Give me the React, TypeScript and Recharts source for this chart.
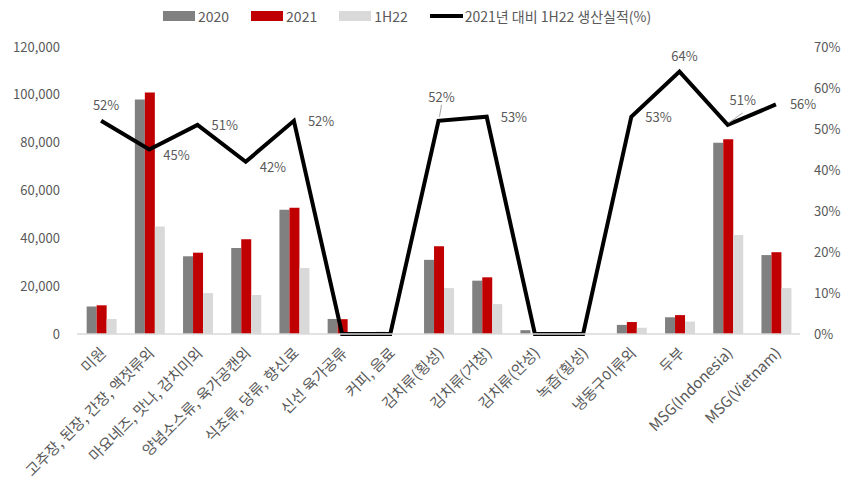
import React from 'react';
import { ComposedChart, Bar, Line, XAxis, YAxis, LabelList } from 'recharts';

const categories = [
  '미원',
  '고추장, 된장, 간장, 액젓류외',
  '마요네즈, 맛나, 감치미외',
  '양념소스류, 육가공캔외',
  '식초류, 당류, 향신료',
  '신선 육가공류',
  '커피, 음료',
  '김치류(횡성)',
  '김치류(거창)',
  '김치류(안성)',
  '녹즙(횡성)',
  '냉동구이류외',
  '두부',
  'MSG(Indonesia)',
  'MSG(Vietnam)',
];
const v2020 = [11500, 98000, 32500, 36000, 52000, 6300, 900, 31000, 22300, 1600, 0, 3800, 7000, 80000, 33000];
const v2021 = [12000, 101000, 34000, 39600, 52800, 6200, 0, 36700, 23700, 0, 0, 5000, 7900, 81400, 34200];
const v1H22 = [6300, 45000, 17100, 16300, 27600, 0, 0, 19200, 12500, 0, 0, 2600, 5200, 41400, 19200];
const ratio = [52, 45, 51, 42, 52, 0, 0, 52, 53, 0, 0, 53, 64, 51, 56];
const leftTicks = [0, 20000, 40000, 60000, 80000, 100000, 120000];
const rightTicks = [0, 10, 20, 30, 40, 50, 60, 70];

const data = categories.map((name, i) => ({
  name,
  y2020: v2020[i],
  y2021: v2021[i],
  y1H22: v1H22[i],
  ratio: ratio[i],
}));

const FONT = "'Noto Sans CJK KR', 'Noto Sans', sans-serif";
const TXT = '#595959';

const XTick = (props: any) => {
  const { x, y, payload } = props;
  return (
    <text
      x={x + 6}
      y={y + 12}
      textAnchor="end"
      fill={TXT}
      fontSize={15}
      fontFamily={FONT}
      transform={`rotate(-45, ${x + 6}, ${y + 12})`}
    >
      {payload.value}
    </text>
  );
};

const RatioLabel = (props: any) => {
  const { x, y, value, index } = props;
  if (!value) return null;
  const txt = `${value}%`;
  const common = { fill: TXT, fontSize: 13, fontFamily: FONT };
  if (index === 0 || index === 12) {
    return <text x={x + 5} y={y - 11} textAnchor="middle" {...common}>{txt}</text>;
  }
  if (index === 7) {
    return (
      <g>
        <line x1={x + 1} y1={y - 4} x2={x + 3} y2={y - 16} stroke="#a6a6a6" strokeWidth={1} />
        <text x={x + 3} y={y - 19} textAnchor="middle" {...common}>{txt}</text>
      </g>
    );
  }
  if (index === 13) {
    return (
      <g>
        <line x1={x + 1} y1={y - 2} x2={x + 15} y2={y - 12} stroke="#a6a6a6" strokeWidth={1} />
        <text x={x + 15} y={y - 20} textAnchor="middle" {...common}>{txt}</text>
      </g>
    );
  }
  const dy = index === 1 || index === 3 ? 6 : 1;
  return <text x={x + 14} y={y + dy + 4} textAnchor="start" {...common}>{txt}</text>;
};

const legendItems = [
  { label: '2020', color: '#808080', line: false },
  { label: '2021', color: '#C00000', line: false },
  { label: '1H22', color: '#D9D9D9', line: false },
  { label: '2021년 대비 1H22 생산실적(%)', color: '#000000', line: true },
];

const App: React.FC = () => {
  return (
    <div style={{ position: 'absolute', left: 0, top: 0, width: 850, height: 486, background: '#fff' }}>
      <div
        style={{
          position: 'absolute',
          top: 6,
          left: 163,
          display: 'flex',
          alignItems: 'center',
          fontFamily: FONT,
          fontSize: 14,
          color: TXT,
          whiteSpace: 'nowrap',
        }}
      >
        {legendItems.map((it) => (
          <div key={it.label} style={{ display: 'flex', alignItems: 'center', marginRight: 22 }}>
            {it.line ? (
              <span style={{ display: 'inline-block', width: 33, height: 4, background: it.color, marginRight: 2 }} />
            ) : (
              <span style={{ display: 'inline-block', width: 32, height: 10, background: it.color, marginRight: 3 }} />
            )}
            <span>{it.label}</span>
          </div>
        ))}
      </div>
      <ComposedChart
        width={850}
        height={486}
        data={data}
        margin={{ top: 47, right: 10, left: 10, bottom: 0 }}
        barCategoryGap="20%"
        barGap={0}
      >
        <XAxis
          dataKey="name"
          interval={0}
          height={152}
          tickLine={false}
          axisLine={{ stroke: '#D9D9D9', strokeWidth: 1.5 }}
          tick={<XTick />}
        />
        <YAxis
          yAxisId="left"
          width={67}
          domain={[0, 120000]}
          ticks={leftTicks}
          tickLine={false}
          axisLine={false}
          tickMargin={11}
          tick={{ fill: TXT, fontSize: 13, fontFamily: FONT }}
          tickFormatter={(v: number) => v.toLocaleString('en-US')}
        />
        <YAxis
          yAxisId="right"
          orientation="right"
          width={40}
          domain={[0, 70]}
          ticks={rightTicks}
          tickLine={false}
          axisLine={false}
          tickMargin={8}
          tick={{ fill: TXT, fontSize: 13, fontFamily: FONT }}
          tickFormatter={(v: number) => `${v}%`}
        />
        <Bar yAxisId="left" dataKey="y2020" name="2020" fill="#808080" isAnimationActive={false} />
        <Bar yAxisId="left" dataKey="y2021" name="2021" fill="#C00000" isAnimationActive={false} />
        <Bar yAxisId="left" dataKey="y1H22" name="1H22" fill="#D9D9D9" isAnimationActive={false} />
        <Line
          yAxisId="right"
          type="linear"
          dataKey="ratio"
          name="2021년 대비 1H22 생산실적(%)"
          stroke="#000000"
          strokeWidth={4}
          dot={false}
          isAnimationActive={false}
        >
          <LabelList dataKey="ratio" content={<RatioLabel />} />
        </Line>
      </ComposedChart>
    </div>
  );
};

export default App;
